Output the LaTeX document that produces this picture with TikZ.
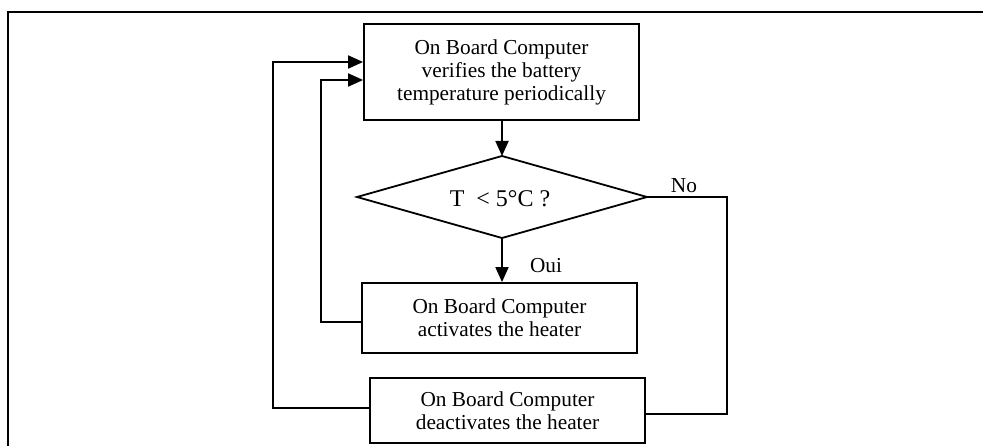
\documentclass[tikz,border=0pt]{standalone}
\usepackage{fontspec}
\setmainfont{Liberation Serif}
\usetikzlibrary{arrows.meta}
\begin{document}
\begin{tikzpicture}[x=1pt,y=-1pt,
  every node/.style={font=\fontsize{21.3}{23}\selectfont},
  box/.style={draw,line width=1.8pt,minimum width=275pt,align=center,inner sep=0pt},
  conn/.style={line width=1.8pt},
  arr/.style={conn,-{Triangle[length=15pt,width=13pt]}},
  lbl/.style={inner sep=0pt}]
\useasboundingbox (0,0) rectangle (983,446);
% frame
\coordinate (fbl) at (8,448);
\coordinate (ftl) at (8,12);
\coordinate (ftr) at (985,12);
\draw[line width=2.6pt] (fbl) -- (ftl) -- (ftr);
% nodes
\node[box,minimum height=96pt] (top) at (501.5,72) {On Board Computer\\verifies the battery\\temperature periodically};
\coordinate (dN) at (502,156);
\coordinate (dS) at (502,238);
\coordinate (dW) at (357,197);
\coordinate (dE) at (647,197);
\draw[line width=1.8pt,line join=miter] (dN) -- (dE) -- (dS) -- (dW) -- cycle;
\node[inner sep=0pt,font=\fontsize{24}{28}\selectfont] (dia) at (500,199) {T\ \ {<} 5°C ?};
\node[box,minimum height=70pt] (act) at (499.5,318) {On Board Computer\\activates the heater};
\node[box,minimum height=65pt] (deact) at (507.5,410.5) {On Board Computer\\deactivates the heater};
\node[lbl] (oui) at (546,266) {Oui};
\node[lbl] (no) at (684,186) {No};
% connectors
\draw[arr] (top.south -| dN) -- (dN);
\draw[arr] (dS) -- (dS |- act.north);
\draw[arr] ([yshift=-4pt]act.west) -- ++(-40,0) |- ([yshift=-8pt]top.west);
\draw[arr] ([yshift=2.5pt]deact.west) -- ++(-96,0) |- ([yshift=10pt]top.west);
\draw[conn] (dE) -- ++(80,0) |- ([yshift=-3.5pt]deact.east);
\end{tikzpicture}
\end{document}
